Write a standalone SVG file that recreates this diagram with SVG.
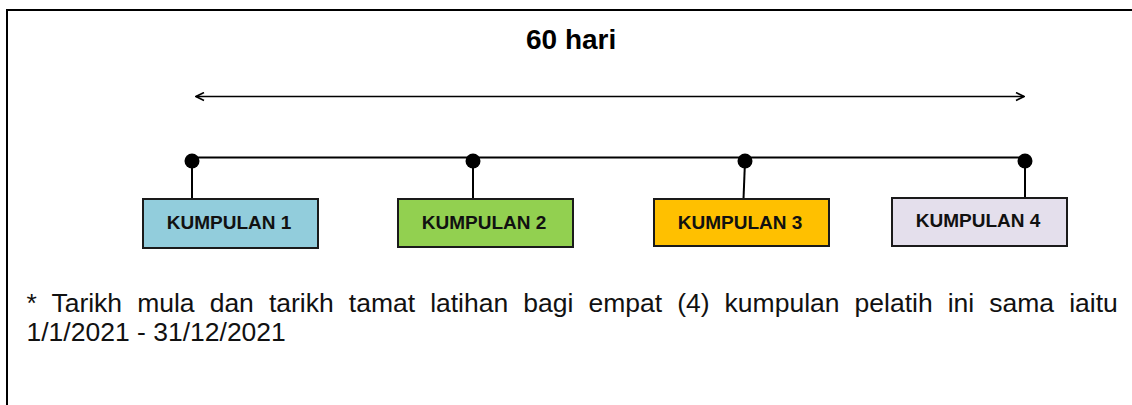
<svg xmlns="http://www.w3.org/2000/svg" width="1132" height="405" viewBox="0 0 1132 405">
  <defs>
    <style>
      .box { stroke: #1a1a1a; stroke-width: 2; }
      .lbl { font-family: "Liberation Sans", Arial, sans-serif; font-weight: bold; font-size: 19px; fill: #111; text-anchor: middle; }
      .wire { stroke: #000; stroke-width: 2; fill: none; }
      .dot { fill: #000; }
      .note { font-family: "Liberation Sans", Arial, sans-serif; font-size: 26.5px; fill: #111; }
      .title { font-family: "Liberation Sans", Arial, sans-serif; font-weight: bold; font-size: 28px; fill: #000; }
    </style>
    <marker id="chev" viewBox="0 0 10 10" refX="9" refY="5" markerWidth="10" markerHeight="10" markerUnits="userSpaceOnUse" orient="auto-start-reverse">
      <path d="M1,1 L9,5 L1,9" fill="none" stroke="#000" stroke-width="1.6"/>
    </marker>
  </defs>

  <rect x="0" y="0" width="1132" height="405" fill="#ffffff"/>
  <path d="M7,405 V10 H1132" fill="none" stroke="#000" stroke-width="2"/>

  <text class="title" x="526" y="48.5">60 hari</text>

  <g id="connectors">
    <line x1="196" y1="96.5" x2="1024" y2="96.5" stroke="#000" stroke-width="1.6" marker-start="url(#chev)" marker-end="url(#chev)"/>
    <line class="wire" x1="192" y1="157.5" x2="1025" y2="157.5"/>
    <line class="wire" x1="192" y1="161" x2="192" y2="199"/>
    <line class="wire" x1="473" y1="161" x2="473" y2="199"/>
    <line class="wire" x1="745" y1="161" x2="743.5" y2="199"/>
    <line class="wire" x1="1025" y1="161" x2="1025" y2="198"/>
    <circle class="dot" cx="192" cy="161" r="7.5"/>
    <circle class="dot" cx="473" cy="161" r="7.5"/>
    <circle class="dot" cx="745" cy="161" r="7.5"/>
    <circle class="dot" cx="1025" cy="161" r="7.5"/>
  </g>

  <g id="kumpulan1">
    <rect class="box" x="143" y="199" width="175" height="49" fill="#92CDDC"/>
    <text class="lbl" x="229" y="229">KUMPULAN 1</text>
  </g>
  <g id="kumpulan2">
    <rect class="box" x="398" y="199" width="175" height="48" fill="#92D050"/>
    <text class="lbl" x="484" y="229">KUMPULAN 2</text>
  </g>
  <g id="kumpulan3">
    <rect class="box" x="654" y="199" width="175" height="47" fill="#FFC000"/>
    <text class="lbl" x="740" y="228.5">KUMPULAN 3</text>
  </g>
  <g id="kumpulan4">
    <rect class="box" x="892" y="198" width="175" height="48" fill="#E4DFEC"/>
    <text class="lbl" x="978" y="227">KUMPULAN 4</text>
  </g>

  <g id="note">
    <text class="note" x="26.5" y="312" word-spacing="7.7">* Tarikh mula dan tarikh tamat latihan bagi empat (4) kumpulan pelatih ini sama iaitu</text>
    <text class="note" x="26.5" y="340.5">1/1/2021 - 31/12/2021</text>
  </g>
</svg>
